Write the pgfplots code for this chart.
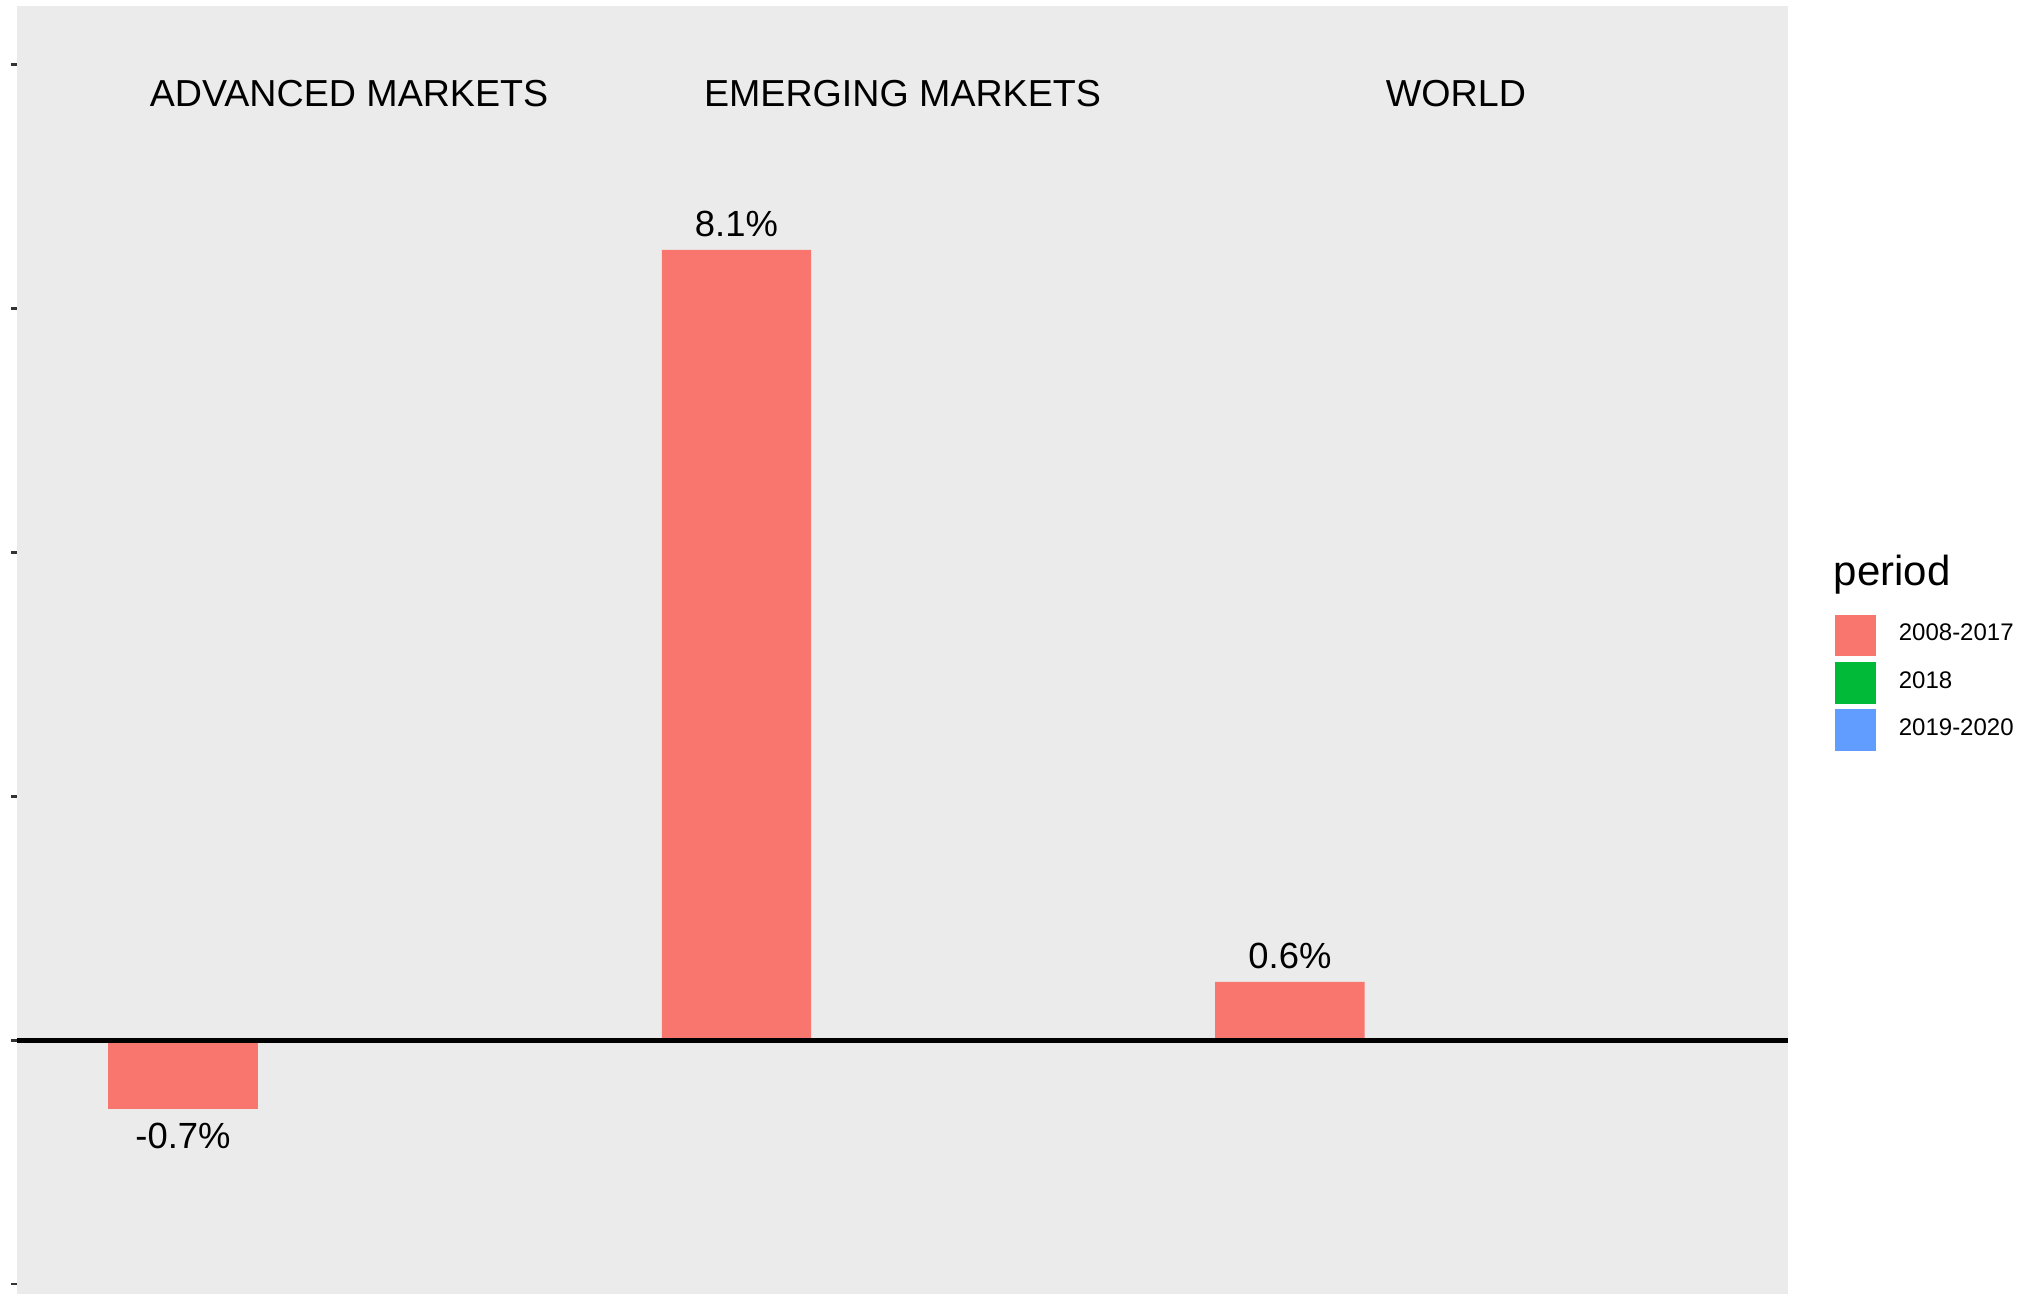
\documentclass[border=0pt]{standalone}
\usepackage{pgfplots}
\pgfplotsset{compat=1.18}
\usepackage{fontspec}
\setmainfont{Liberation Sans}
\definecolor{panelgray}{HTML}{EBEBEB}
\definecolor{cred}{HTML}{F8766D}
\definecolor{cgreen}{HTML}{00BA38}
\definecolor{cblue}{HTML}{619CFF}
\begin{document}
\begin{tikzpicture}
\begin{axis}[
  scale only axis,
  width=442.75pt, height=322pt,
  at={(0,0)}, anchor=south west,
  xmin=0.4, xmax=3.6, ymin=-2.6, ymax=10.6,
  axis background/.style={fill=panelgray},
  axis line style={draw=none},
  xtick=\empty,
  ytick={-2.5,0,2.5,5,7.5,10},
  yticklabels={},
  ytick pos=left,
  tick align=outside,
  major tick length=1.5pt,
  tick style={color=black!80, line width=0.6pt},
  clip=false,
  legend style={at={(rel axis cs:1.026,0.528)}, anchor=north west,
    draw=none, fill=none, inner sep=0pt, row sep=1.4pt,
    font=\fontsize{6}{7}\selectfont,
    nodes={inner sep=0.6pt}},
  legend cell align=left,
]
\addplot[ybar, bar width=0.27, bar shift=0pt, fill=cred, draw=none,
  point meta=explicit symbolic,
  nodes near coords,
  every node near coord/.append style={font=\fontsize{9.1}{11}\selectfont, color=black, inner sep=3pt, anchor=south},
  legend image code/.code={\fill[fill=cred,draw=none] (0pt,-5.2pt) rectangle (10.4pt,5.2pt);}]
  coordinates {(1.7,8.1) [8.1\%] (2.7,0.6) [0.6\%]};
\addlegendentry{\hspace{5pt}2008-2017}
\addlegendimage{legend image code/.code={\fill[fill=cgreen,draw=none] (0pt,-5.2pt) rectangle (10.4pt,5.2pt);}}
\addlegendentry{\hspace{5pt}2018}
\addlegendimage{legend image code/.code={\fill[fill=cblue,draw=none] (0pt,-5.2pt) rectangle (10.4pt,5.2pt);}}
\addlegendentry{\hspace{5pt}2019-2020}
\addplot[ybar, bar width=0.27, bar shift=0pt, fill=cred, draw=none, forget plot,
  point meta=explicit symbolic,
  nodes near coords,
  every node near coord/.append style={font=\fontsize{9.1}{11}\selectfont, color=black, inner sep=3.5pt, anchor=north}]
  coordinates {(0.7,-0.7) [-0.7\%]};
\addplot[black, line width=1.1pt, forget plot] coordinates {(0.4,0) (3.6,0)};
\node[font=\fontsize{9.4}{11}\selectfont] at (axis cs:1,9.7) {ADVANCED MARKETS};
\node[font=\fontsize{9.4}{11}\selectfont] at (axis cs:2,9.7) {EMERGING MARKETS};
\node[font=\fontsize{9.4}{11}\selectfont] at (axis cs:3,9.7) {WORLD};
\node[font=\fontsize{10.5}{12}\selectfont, anchor=base west, inner sep=0pt] at (rel axis cs:1.0254,0.55) {period};
\end{axis}
\pgfresetboundingbox
\useasboundingbox (-4.25pt,0pt) rectangle (503.5pt,323.5pt);
\end{tikzpicture}
\end{document}
